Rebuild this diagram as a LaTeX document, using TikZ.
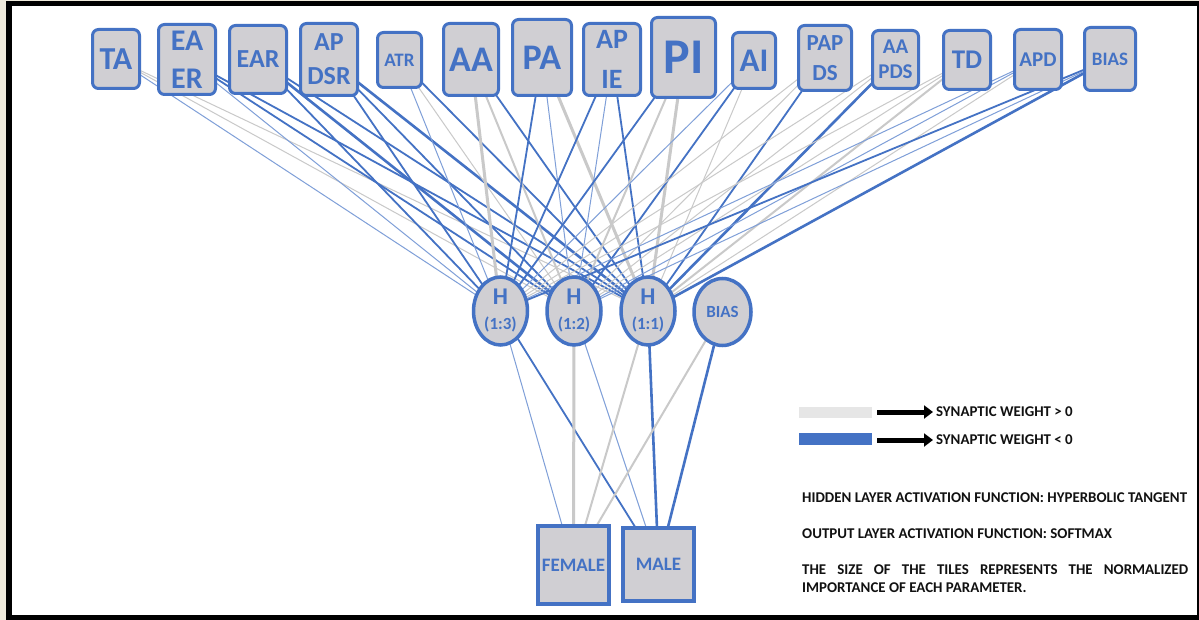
\documentclass[tikz,border=0pt]{standalone}
\usepackage{fontspec}
\setmainfont{Carlito}
\usetikzlibrary{arrows.meta,shapes.geometric}
\definecolor{nblue}{HTML}{4472C4}
\definecolor{lblue}{HTML}{7F9FD8}
\definecolor{nfill}{HTML}{D0CFD3}
\definecolor{ngray}{HTML}{C9C9C9}
\definecolor{lgray}{HTML}{E6E6E6}
\definecolor{paper}{HTML}{EFEADC}
\definecolor{ink}{HTML}{111111}
\pgfdeclarelayer{bg}\pgfdeclarelayer{edges}\pgfsetlayers{bg,edges,main}
\tikzset{
 inbox/.style={draw=nblue, line width=3pt, fill=nfill, rounded corners=6pt, inner sep=0pt, align=center, text=nblue},
 hid/.style={ellipse, draw=nblue, line width=3.5pt, fill=nfill, inner sep=0pt, align=center, text=nblue, font=\bfseries\fontsize{17}{19}\selectfont, minimum width=54pt, minimum height=68pt},
 outbox/.style={draw=nblue, line width=3.5pt, fill=nfill, inner sep=0pt, text=nblue, font=\bfseries\fontsize{19}{22}\selectfont},
 p1/.style={draw=ngray, line width=1pt},
 p2/.style={draw=ngray, line width=2pt},
 p3/.style={draw=ngray, line width=3pt},
 n1/.style={draw=lblue, line width=1pt},
 n2/.style={draw=nblue, line width=1.8pt},
 n3/.style={draw=nblue, line width=2.6pt},
 legtext/.style={anchor=west, inner sep=0pt, text=ink, font=\bfseries\fontsize{14.9}{17}\selectfont},
 legarrow/.style={draw=black, line width=5pt, -{Triangle[length=9pt,width=13pt]}},
}
\newcommand{\fs}[2]{\bfseries\fontsize{#1}{#2}\selectfont}
\newcommand{\hlab}[1]{{\fontsize{24}{26}\selectfont H}\\[6pt]#1}
\begin{document}
\begin{tikzpicture}[x=1pt,y=-1pt]
\useasboundingbox (0,0) rectangle (1199,620);
\begin{pgfonlayer}{bg}
 \fill[paper] (0,0) rectangle (1199,620);
 \draw[black, line width=5.5pt, fill=white] (9,3.5) rectangle (1199.5,617.5);
\end{pgfonlayer}

% input layer
\node[inbox, minimum width=47pt, minimum height=59pt, font=\fs{32}{36}] (TA) at (116,59) {TA};
\node[inbox, minimum width=57pt, minimum height=70pt, font=\fs{30}{38}] (EAER) at (187,59.5) {EA\\ER};
\node[inbox, minimum width=57pt, minimum height=68pt, font=\fs{26}{30}] (EAR) at (258,59.5) {EAR};
\node[inbox, minimum width=57pt, minimum height=72pt, font=\fs{26}{34}] (APDSR) at (329,59.5) {AP\\DSR};
\node[inbox, minimum width=44pt, minimum height=55pt, font=\fs{19}{22}] (ATR) at (399.5,60) {ATR};
\node[inbox, minimum width=55pt, minimum height=72pt, font=\fs{36}{40}] (AA) at (471,59.5) {AA};
\node[inbox, minimum width=59pt, minimum height=76pt, font=\fs{36}{40}] (PA) at (542,57.5) {PA};
\node[inbox, minimum width=57pt, minimum height=72pt, font=\fs{28}{40}] (APIE) at (612,59.5) {AP\\IE};
\node[inbox, minimum width=64pt, minimum height=80pt, font=\fs{50}{56}] (PI) at (683.5,57.5) {PI};
\node[inbox, minimum width=43pt, minimum height=56pt, font=\fs{33}{36}] (AI) at (754,60.5) {AI};
\node[inbox, minimum width=53pt, minimum height=65pt, font=\fs{23}{30}] (PAPDS) at (825,58) {PAP\\DS};
\node[inbox, minimum width=46pt, minimum height=58pt, font=\fs{21}{25}] (AAPDS) at (895.5,59.5) {AA\\PDS};
\node[inbox, minimum width=47pt, minimum height=59pt, font=\fs{27}{30}] (TD) at (967,60) {TD};
\node[inbox, minimum width=47pt, minimum height=60pt, font=\fs{21}{24}] (APD) at (1038,59.5) {APD};
\node[inbox, minimum width=51pt, minimum height=63pt, font=\fs{19}{22}] (BIASin) at (1110,59) {BIAS};

% hidden layer
\node[hid] (H1) at (500.5,311) {\hlab{(1:3)}};
\node[hid] (H2) at (574,311) {\hlab{(1:2)}};
\node[hid] (H3) at (648,311) {\hlab{(1:1)}};
\node[hid, minimum width=57pt, minimum height=67pt] (HB) at (722.5,312) {BIAS};

% output layer
\node[outbox, minimum width=71pt, minimum height=78pt] (FEM) at (573.5,565) {FEMALE};
\node[outbox, minimum width=71pt, minimum height=73pt] (MAL) at (658.5,564.5) {MALE};

\begin{pgfonlayer}{edges}
\foreach \a/\b/\s in {
 TA/H1/n1, TA/H2/p1, TA/H3/p1,
 EAER/H1/n1, EAER/H2/n2, EAER/H3/n2,
 EAR/H1/n2, EAR/H2/n3, EAR/H3/n2,
 APDSR/H1/n2, APDSR/H2/n2, APDSR/H3/n3,
 ATR/H1/n1, ATR/H2/p1, ATR/H3/n2,
 AA/H1/p3, AA/H2/p2, AA/H3/n2,
 PA/H1/n2, PA/H2/n1, PA/H3/p3,
 APIE/H1/n2, APIE/H2/n1, APIE/H3/n2,
 PI/H1/n2, PI/H2/p2, PI/H3/p3,
 AI/H1/n1, AI/H2/n2, AI/H3/p1,
 PAPDS/H1/p1, PAPDS/H2/p1, PAPDS/H3/n2,
 AAPDS/H1/p1, AAPDS/H2/p1, AAPDS/H3/n3,
 TD/H1/p1, TD/H2/p1, TD/H3/p2,
 APD/H1/n1, APD/H2/n1, APD/H3/p1,
 BIASin/H1/n2, BIASin/H2/n1, BIASin/H3/n3,
 H1/FEM/n1, H1/MAL/n2,
 H2/FEM/p3, H2/MAL/n1,
 H3/FEM/p2, H3/MAL/n3,
 HB/FEM/p2, HB/MAL/n3}
 \draw[\s] (\a.center) -- (\b.center);
\end{pgfonlayer}

% legend
\fill[lgray] (799,407) rectangle (872,418);
\fill[nblue] (799,433) rectangle (872,445);
\coordinate (a1s) at (877,412); \coordinate (a1e) at (933,412);
\coordinate (a2s) at (877,440); \coordinate (a2e) at (933,440);
\draw[legarrow] (a1s) -- (a1e);
\draw[legarrow] (a2s) -- (a2e);
\node[legtext] (L1) at (936,412) {SYNAPTIC WEIGHT > 0};
\node[legtext] (L2) at (936,440) {SYNAPTIC WEIGHT < 0};
\node[legtext] (L3) at (802,498) {HIDDEN LAYER ACTIVATION FUNCTION: HYPERBOLIC TANGENT};
\node[legtext] (L4) at (802,534) {OUTPUT LAYER ACTIVATION FUNCTION: SOFTMAX};
\node[legtext, anchor=north west, align=left, font=\bfseries\fontsize{14.9}{18}\selectfont] (L5) at (802,564.5) {\makebox[386pt][s]{THE SIZE OF THE TILES REPRESENTS THE NORMALIZED}\\IMPORTANCE OF EACH PARAMETER.};
\end{tikzpicture}
\end{document}
